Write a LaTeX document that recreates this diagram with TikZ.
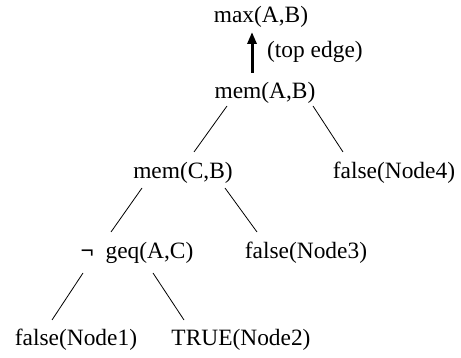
\documentclass[tikz,border=0pt]{standalone}
\usepackage{fontspec}
\setmainfont{Liberation Serif}
\usetikzlibrary{calc,arrows.meta}
\begin{document}
\begin{tikzpicture}[x=1pt,y=-1pt,
  term/.style={inner sep=0pt,font=\fontsize{23.4}{28}\selectfont},
  branch/.style={line width=0.8pt},
  topedge/.style={line width=3pt,-{Triangle[length=12pt,width=9pt]}}]
\useasboundingbox (0,0) rectangle (461,358);
% tree nodes
\node[term] (maxAB)  at (261,17)  {max(A,B)};
\node[term] (memAB)  at (265,93)  {mem(A,B)};
\node[term] (memCB)  at (183,173) {mem(C,B)};
\node[term] (false4) at (394,173) {false(Node4)};
\node[term] (geq)    at (137,253) {\textbf{¬}\ \ geq(A,C)};
\node[term] (false3) at (306,253) {false(Node3)};
\node[term] (false1) at (76,340)  {false(Node1)};
\node[term] (true2)  at (241,340) {TRUE(Node2)};
% edge into the root
\draw[topedge] ($(memAB)+(-13,-20)$) -- ($(maxAB)+(-9,15)$);
\node[term,anchor=west] (toplbl) at (267,52) {(top edge)};
% branches
\draw[branch] ($(memAB)+(-38,13)$) -- ($(memCB)+(11,-21)$);
\draw[branch] ($(memAB)+(48,13)$)  -- ($(false4)+(-51,-21)$);
\draw[branch] ($(memCB)+(-41,15)$) -- ($(geq)+(-26,-21)$);
\draw[branch] ($(memCB)+(42,15)$)  -- ($(false3)+(-49,-21)$);
\draw[branch] ($(geq)+(-54,20)$)   -- ($(false1)+(-24,-20)$);
\draw[branch] ($(geq)+(16,20)$)    -- ($(true2)+(-57,-20)$);
\end{tikzpicture}
\end{document}
